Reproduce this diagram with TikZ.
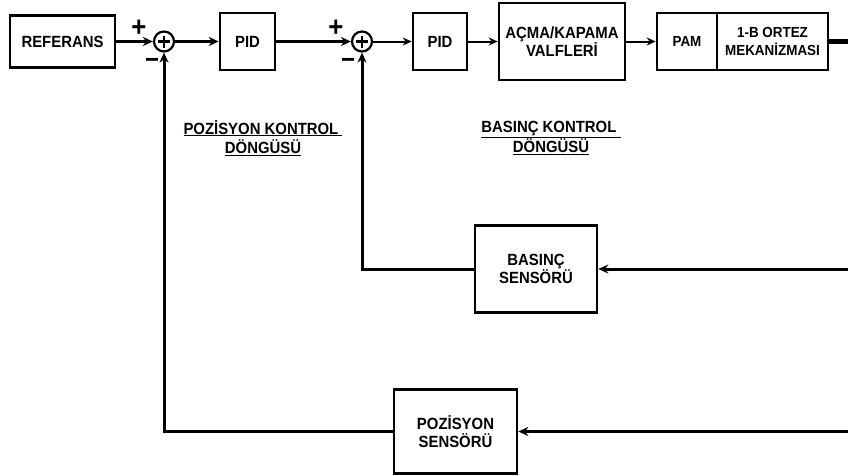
\documentclass[tikz,border=0pt]{standalone}
\usepackage{fontspec}
\setmainfont{Liberation Sans}[FakeStretch=0.92]
\usetikzlibrary{arrows.meta}
\begin{document}
\begin{tikzpicture}[x=1pt,y=-1pt,
  blk/.style={draw,line width=2.6pt,inner sep=0pt,align=center,font=\bfseries\fontsize{16.2}{18.5}\selectfont},
  smallblk/.style={blk,font=\bfseries\fontsize{14.6}{17.5}\selectfont},
  sumnode/.style={draw,circle,line width=2.2pt,minimum size=20pt,inner sep=0pt},
  sig/.style={line width=3pt,-{Stealth[length=10pt,width=9pt]}},
  thinsig/.style={line width=2pt,-{Stealth[length=9pt,width=8pt]}},
  lbl/.style={align=center,font=\bfseries\fontsize{16.2}{19.5}\selectfont},
  sgn/.style={font=\bfseries\fontsize{28}{28}\selectfont,inner sep=0pt},
  msgn/.style={font=\bfseries\fontsize{26}{26}\selectfont,inner sep=0pt}
]
\useasboundingbox (0,0) rectangle (848,475);
% forward path
\node[blk,minimum width=105pt,minimum height=52pt] (ref) at (62.5,41.5) {REFERANS};
\node[sumnode] (s1) at (164,41.5) {};
\node[blk,minimum width=55pt,minimum height=57pt] (pid1) at (247.5,41.5) {PID};
\node[sumnode] (s2) at (362,41.5) {};
\node[blk,minimum width=54pt,minimum height=57pt] (pid2) at (440,41.5) {PID};
\node[blk,minimum width=126pt,minimum height=77pt] (valf) at (562,41.5) {AÇMA/KAPAMA\\VALFLERİ};
\node[smallblk,minimum width=60pt,minimum height=57pt] (pam) at (687,41.5) {PAM};
\node[smallblk,minimum width=111pt,minimum height=57pt] (ortez) at (772.5,41.5) {1-B ORTEZ\\MEKANİZMASI};
% plus signs inside summing junctions
\foreach \s in {s1,s2}{
  \draw[line width=2.4pt] ([xshift=-6pt]\s.center) -- ([xshift=6pt]\s.center);
  \draw[line width=2.4pt] ([yshift=-6pt]\s.center) -- ([yshift=6pt]\s.center);
}
% signs
\node[sgn] (p1) at (139,28) {+};
\node[msgn] (m1) at (152,63) {−};
\node[sgn] (p2) at (336,28) {+};
\node[msgn] (m2) at (348,63) {−};
% sensors
\node[blk,minimum width=122pt,minimum height=87pt] (bs) at (536,269) {BASINÇ\\SENSÖRÜ};
\node[blk,minimum width=123pt,minimum height=84pt] (ps) at (455.5,431.5) {POZİSYON\\SENSÖRÜ};
% loop labels
\node[lbl] (lp) at (263,138) {\underline{POZİSYON KONTROL\ }\\\underline{DÖNGÜSÜ}};
\node[lbl] (lb) at (551,138) {\underline{BASINÇ KONTROL\ }\\\underline{DÖNGÜSÜ}};
% free ends at the right edge
\coordinate (out) at (848,41.5);
\coordinate (rb) at (848,269);
\coordinate (rp) at (848,431.5);
% connectors
\draw[sig] (ref.east) -- (s1.west);
\draw[sig] (s1.east) -- (pid1.west);
\draw[sig] (pid1.east) -- (s2.west);
\draw[thinsig] (s2.east) -- (pid2.west);
\draw[thinsig] (pid2.east) -- (valf.west);
\draw[thinsig] (valf.east) -- (pam.west);
\draw[line width=4.5pt] (ortez.east) -- (out);
\draw[sig] (rb) -- (bs.east);
\draw[sig] (bs.west) -| (s2.south);
\draw[sig] (rp) -- (ps.east);
\draw[sig] (ps.west) -| (s1.south);
\end{tikzpicture}
\end{document}
